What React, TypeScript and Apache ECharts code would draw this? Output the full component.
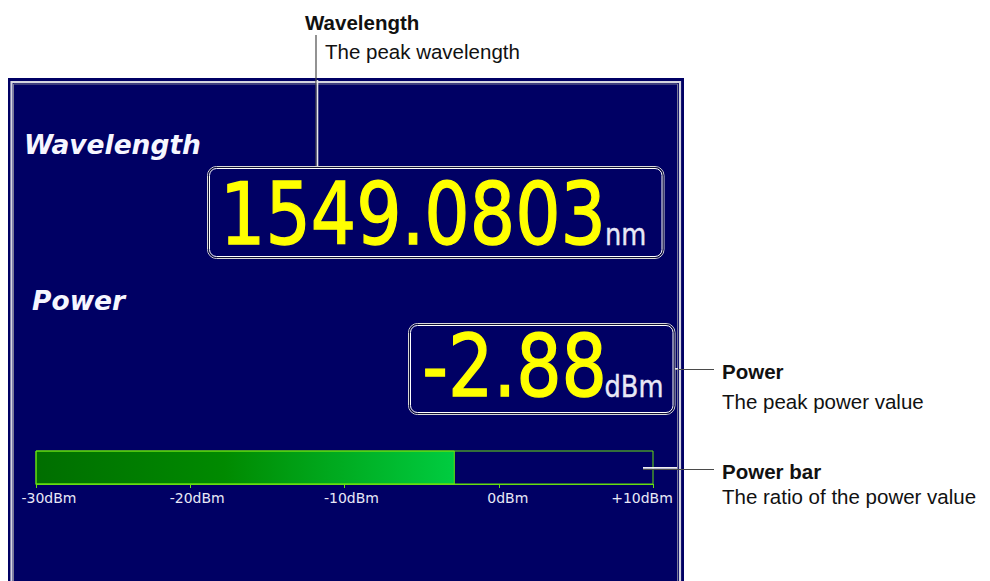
import React, { useEffect, useRef } from "react";
import * as echarts from "echarts";

// ---- data ----
const readingNames = ["Wavelength", "Power"];
const readingValues = ["1549.0803", "-2.88"];
const readingUnits = ["nm", "dBm"];
const powerScale = [-30, 10];
const powerTickStep = 10;
const powerReading = [-2.88];
const calloutTitles = ["Wavelength", "Power", "Power bar"];
const calloutTexts = ["The peak wavelength", "The peak power value", "The ratio of the power value"];

const NAVY = "#000064";
const LIME = "#66dd11";
const LABEL = "#e8e8f6";
const YELLOW = "#ffff00";
const NUMFONT = "'DejaVu Sans', Verdana, sans-serif";
const ARIAL = "'Liberation Sans', Arial, sans-serif";

function box(x: number, y: number, w: number, h: number) {
  return [
    { type: "rect", z: 5, shape: { x, y, width: w, height: h, r: 9 }, style: { fill: "none", stroke: "#d8d8d8", lineWidth: 1 } },
    { type: "rect", z: 5, shape: { x: x + 1, y: y + 1, width: w - 2, height: h - 2, r: 8 }, style: { fill: "none", stroke: "#101030", lineWidth: 1 } },
    { type: "rect", z: 5, shape: { x: x + 2, y: y + 2, width: w - 4, height: h - 4, r: 7 }, style: { fill: "none", stroke: "#ffffff", lineWidth: 1 } },
  ];
}

function lineEl(x1: number, y1: number, x2: number, y2: number, color: string, w: number) {
  return { type: "line", z: 20, shape: { x1, y1, x2, y2 }, style: { stroke: color, lineWidth: w } };
}

function txt(x: number, y: number, text: string, opts: any, scaleX = 1) {
  return {
    type: "text",
    z: 30,
    x,
    y,
    scaleX,
    style: { text, verticalAlign: "middle", align: "left", ...opts },
  };
}

export default function App() {
  const ref = useRef<HTMLDivElement>(null);
  useEffect(() => {
    if (!ref.current) return;
    const chart = echarts.init(ref.current, null, { renderer: "svg" });

    const labelFont = "'DejaVu Sans', Verdana, sans-serif";
    const offsets: Record<string, any> = {
      a: { padding: [0, 0, 0, 26] },
      b: { padding: [0, 0, 0, 14] },
      c: { padding: [0, 0, 0, 18] },
      d: { padding: [0, 22, 0, 0] },
    };

    const bigStyle = { fill: YELLOW, fontSize: 86, fontFamily: NUMFONT, stroke: YELLOW, lineWidth: 1.4 };
    const unitStyle = { fill: LABEL, fontSize: 31, fontFamily: NUMFONT, stroke: LABEL, lineWidth: 0.4 };
    const titleStyle = { fill: "#f6f6ff", fontSize: 26.5, fontFamily: NUMFONT, fontWeight: "bold", fontStyle: "italic" };
    const calloutBold = { fill: "#111", fontSize: 20.5, fontFamily: ARIAL, fontWeight: "bold" };
    const calloutNorm = { fill: "#111", fontSize: 20.5, fontFamily: ARIAL };

    const graphics: any[] = [
      // panel
      { type: "rect", z: -10, shape: { x: 8, y: 78, width: 676, height: 520 }, style: { fill: NAVY } },
      { type: "rect", z: -9, shape: { x: 11.5, y: 82, width: 668.5, height: 520 }, style: { fill: "none", stroke: "#d4d4e0", lineWidth: 2.2 } },
      { type: "rect", z: -9, shape: { x: 13.5, y: 84, width: 664, height: 520 }, style: { fill: "none", stroke: "#7a7a98", lineWidth: 1 } },
      ...box(207.5, 166.5, 456.5, 92),
      ...box(408.5, 323.5, 266.5, 91),
      // panel titles
      txt(24, 144, readingNames[0], titleStyle),
      txt(32, 300, readingNames[1], titleStyle),
      // readings
      txt(606, 215, readingValues[0], { ...bigStyle, align: "right" }, 0.83),
      txt(605, 234.5, readingUnits[0], unitStyle, 0.83),
      txt(607, 367, readingValues[1], { ...bigStyle, align: "right" }, 0.83),
      txt(604.5, 386.5, readingUnits[1], unitStyle, 0.83),
      // callout lines
      lineEl(316, 35, 316, 166, "#4a4a4a", 1.2),
      lineEl(317.5, 80, 317.5, 166, "#e8e8e8", 1.6),
      lineEl(676, 369.5, 714, 369.5, "#4a4a4a", 1.2),
      lineEl(675, 368.8, 678, 368.8, "#f0f0f0", 1.5),
      lineEl(643, 469.5, 714, 469.5, "#4a4a4a", 1.2),
      lineEl(643, 467.8, 677, 467.8, "#f0f0f0", 1.8),
      // callout texts
      txt(305, 22.5, calloutTitles[0], calloutBold),
      txt(325, 51.3, calloutTexts[0], calloutNorm),
      txt(722, 371, calloutTitles[1], calloutBold),
      txt(722, 401, calloutTexts[1], calloutNorm),
      txt(722, 471, calloutTitles[2], calloutBold),
      txt(722, 496, calloutTexts[2], calloutNorm),
    ];

    chart.setOption({
      animation: false,
      backgroundColor: "#ffffff",
      grid: {
        left: 36,
        right: 990 - 653,
        top: 451,
        bottom: 581 - 484,
        show: true,
        borderColor: LIME,
        borderWidth: 1,
        backgroundColor: "transparent",
        z: 3,
      },
      xAxis: {
        type: "value",
        min: powerScale[0],
        max: powerScale[1],
        interval: powerTickStep,
        splitLine: { show: false },
        axisLine: { show: true, lineStyle: { color: LIME, width: 1 } },
        axisTick: { show: true, length: 4, lineStyle: { color: LIME, width: 1 } },
        axisLabel: {
          margin: 7,
          color: LABEL,
          fontSize: 14,
          fontFamily: labelFont,
          formatter: (v: number) => {
            const s = (v > 0 ? "+" : "") + v + "dBm";
            const key = v === powerScale[0] ? "a" : v === powerScale[1] ? "d" : v === 0 ? "c" : "b";
            return "{" + key + "|" + s + "}";
          },
          rich: Object.fromEntries(
            Object.entries(offsets).map(([k, o]) => [
              k,
              { ...o, color: LABEL, fontSize: 14, fontFamily: labelFont },
            ])
          ),
        },
      },
      yAxis: { type: "value", min: 0, max: 1, show: false },
      series: [
        {
          type: "custom",
          z: 2,
          data: powerReading.map((v) => [powerScale[0], v]),
          encode: { x: [0, 1] },
          renderItem: (_p: any, api: any) => {
            const a = api.coord([api.value(0), 1]);
            const b = api.coord([api.value(1), 0]);
            return {
              type: "rect",
              shape: { x: a[0], y: a[1], width: b[0] - a[0], height: b[1] - a[1] },
              style: {
                fill: new echarts.graphic.LinearGradient(0, 0, 1, 0, [
                  { offset: 0, color: "#006e00" },
                  { offset: 0.45, color: "#008a00" },
                  { offset: 1, color: "#00cc40" },
                ]),
                stroke: LIME,
                lineWidth: 1,
              },
            };
          },
        },
      ],
      graphic: { elements: graphics },
    });
    return () => chart.dispose();
  }, []);
  return (
    <div
      ref={ref}
      style={{ position: "fixed", left: 0, top: 0, width: 990, height: 581, background: "#fff" }}
    />
  );
}
